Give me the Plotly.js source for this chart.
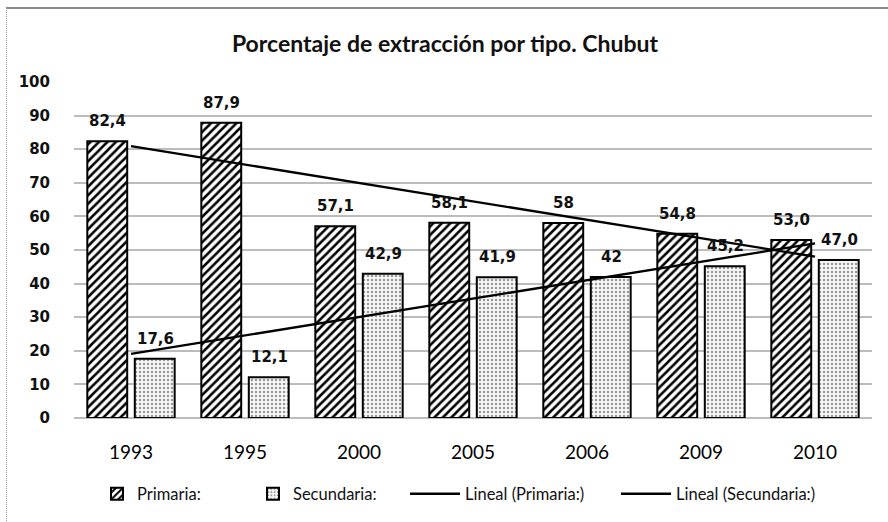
<!DOCTYPE html>
<html>
<head>
<meta charset="utf-8">
<script src="https://cdn.plot.ly/plotly-3.0.1.min.js"></script>
<style>
  html, body { margin: 0; padding: 0; background: #fff; }
  #wrap { position: relative; width: 888px; height: 522px; overflow: hidden; }
  #chart { position: absolute; left: 0; top: 0; width: 888px; height: 522px; }
  #frame { position: absolute; left: 6px; top: 7px; width: 900px; height: 600px;
           border-top: 2px solid #8a8a8a; border-left: 1px dotted #9a9a9a; pointer-events: none; }
</style>
</head>
<body>
<div id="wrap">
  <div id="chart"></div>
  <div id="frame"></div>
</div>
<script>
// ---- data ----
const years = ['1993', '1995', '2000', '2005', '2006', '2009', '2010'];
const primaria = [82.4, 87.9, 57.1, 58.1, 58, 54.8, 53.0];
const secundaria = [17.6, 12.1, 42.9, 41.9, 42, 45.2, 47.0];
const primariaLabels = ['82,4', '87,9', '57,1', '58,1', '58', '54,8', '53,0'];
const secundariaLabels = ['17,6', '12,1', '42,9', '41,9', '42', '45,2', '47,0'];
const yTicks = [0, 10, 20, 30, 40, 50, 60, 70, 80, 90, 100];

// linear trend (least squares over category index), like Excel "Lineal"
function linearTrend(vals) {
  const n = vals.length;
  const xs = vals.map((_, i) => i + 1);
  const mx = xs.reduce((a, b) => a + b, 0) / n;
  const my = vals.reduce((a, b) => a + b, 0) / n;
  let sxy = 0, sxx = 0;
  for (let i = 0; i < n; i++) { sxy += (xs[i] - mx) * (vals[i] - my); sxx += (xs[i] - mx) ** 2; }
  const b = sxy / sxx, a = my - b * mx;
  return xs.map(x => a + b * x);
}

const labelFont = { family: 'DejaVu Sans', size: 15, color: '#111', weight: 'bold' };

const traces = [
  {
    type: 'bar', name: 'Primaria:', x: years, y: primaria, legend: 'legend',
    marker: { color: '#ffffff', line: { color: '#000000', width: 2 },
              pattern: { shape: '/', fgcolor: '#000000', bgcolor: '#ffffff', size: 6, solidity: 0.42 } },
    hoverinfo: 'x+y'
  },
  {
    type: 'bar', name: 'Secundaria:', x: years, y: secundaria, legend: 'legend2',
    marker: { color: '#eeeeee', line: { color: '#000000', width: 2 },
              pattern: { shape: '.', fgcolor: '#9a9a9a', bgcolor: '#f8f8f8', size: 4, solidity: 0.3 } },
    hoverinfo: 'x+y'
  },
  {
    type: 'scatter', mode: 'lines', name: 'Lineal (Primaria:)', x: years, y: linearTrend(primaria),
    legend: 'legend3', line: { color: '#000000', width: 2.3 }, hoverinfo: 'skip'
  },
  {
    type: 'scatter', mode: 'lines', name: 'Lineal (Secundaria:)', x: years, y: linearTrend(secundaria),
    legend: 'legend4', line: { color: '#000000', width: 2.3 }, hoverinfo: 'skip'
  }
];

const annotations = [];
years.forEach((yr, i) => {
  annotations.push({ x: i, y: primaria[i], xref: 'x', yref: 'y', text: primariaLabels[i],
    showarrow: false, xshift: -24, yshift: 20, yanchor: 'middle', font: labelFont });
  annotations.push({ x: i, y: secundaria[i], xref: 'x', yref: 'y', text: secundariaLabels[i],
    showarrow: false, xshift: 24, yshift: 20, yanchor: 'middle', font: labelFont });
});

const legendFont = { family: 'Lato', size: 16.5, color: '#111' };
function leg(px, iw) {
  return { orientation: 'h', x: (px - 74) / 798, xanchor: 'left', y: -(494 - 419) / 337, yanchor: 'middle',
           itemwidth: iw, font: legendFont, bgcolor: 'rgba(0,0,0,0)', borderwidth: 0 };
}

const layout = {
  width: 888, height: 522,
  paper_bgcolor: '#ffffff', plot_bgcolor: '#ffffff',
  margin: { l: 74, r: 16, t: 82, b: 103 },
  title: { text: 'Porcentaje de extracción por tipo. Chubut', x: 445 / 888, xanchor: 'center', xref: 'container',
           y: 1 - 44 / 522, yanchor: 'middle', yref: 'container',
           font: { family: 'Lato', size: 23, color: '#111', weight: 'bold' } },
  barmode: 'group', bargap: 0.167, bargroupgap: 0.16,
  xaxis: { type: 'category', categoryorder: 'array', categoryarray: years, range: [-0.5, 6.5],
           autorange: false, showgrid: false, zeroline: false, showline: false,
           ticks: '', ticklabelstandoff: 21,
           tickfont: { family: 'Lato', size: 19, color: '#000' } },
  yaxis: { range: [0, 100], autorange: false, tickvals: yTicks, showgrid: true, gridcolor: '#bcbcbc', gridwidth: 2,
           zeroline: true, zerolinecolor: '#bcbcbc', zerolinewidth: 2, showline: false, ticks: '',
           ticklabelstandoff: 23,
           tickfont: { family: 'DejaVu Sans', size: 15, color: '#111', weight: 'bold' } },
  showlegend: true,
  legend: leg(97, 30), legend2: leg(253, 30), legend3: leg(405, 50), legend4: leg(616, 50),
  annotations: annotations
};

Plotly.newPlot('chart', traces, layout, { displayModeBar: false, staticPlot: true });
</script>
</body>
</html>
